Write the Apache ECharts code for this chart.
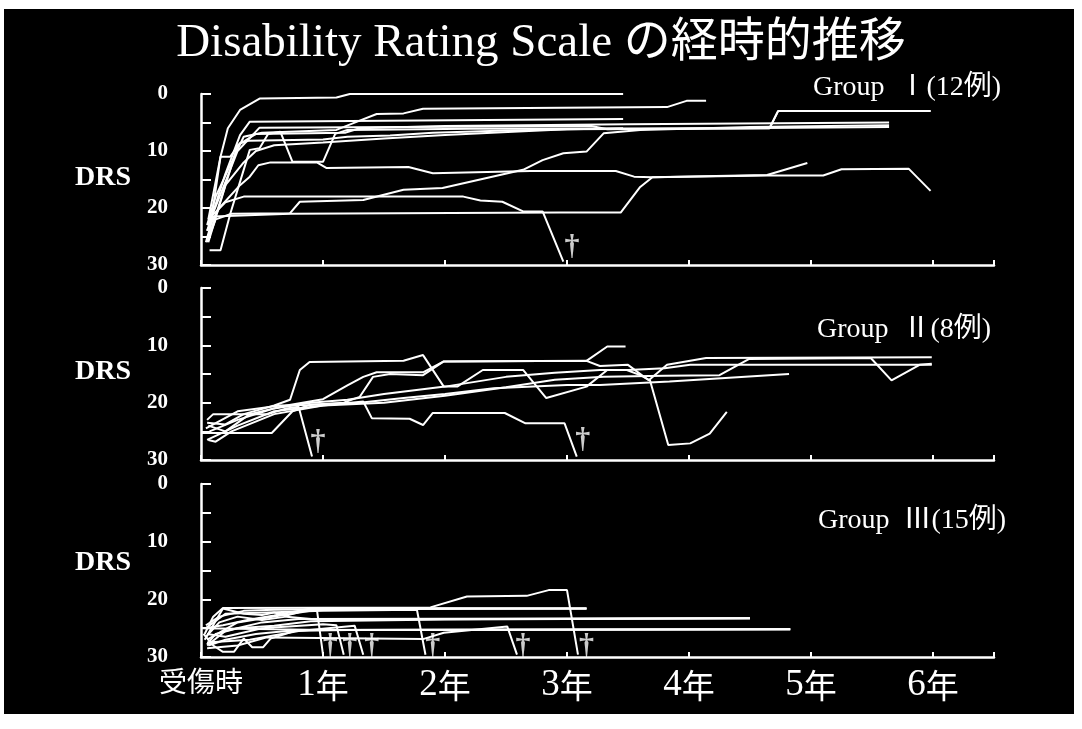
<!DOCTYPE html>
<html>
<head>
<meta charset="utf-8">
<script src="https://cdn.jsdelivr.net/npm/echarts@6/dist/echarts.min.js"></script>
<style>
html, body { margin: 0; padding: 0; background: #fff; }
#slide { position: absolute; left: 4px; top: 9px; width: 1070px; height: 705px; background: #000; }
#chart { position: absolute; left: 0; top: 0; width: 1082px; height: 729px; }
</style>
</head>
<body>
<div id="slide"></div>
<div id="chart"></div>
<script>
// [years after injury, DRS]
var group1Lines = [
    [[0.06,22],[0.16,11],[0.22,6],[0.32,2.8],[0.48,0.8],[1.11,0.6],[1.22,0],[3.46,0]],
    [[0.06,25.6],[0.16,11],[0.24,11],[0.32,8.6],[0.39,8.2],[1.0,8],[1.2,7.5],[1.55,7.3],[1.9,6.8],[2.5,6.4],[3.46,6.0]],
    [[0.07,27.4],[0.16,27.4],[0.24,21],[0.4,9.8],[0.48,9.5],[0.55,7],[0.65,6.6],[0.75,11.9],[1.0,11.9],[1.1,7],[1.2,6.3],[2.2,6.1],[4.66,6.0],[4.73,3.0],[5.98,3.0]],
    [[0.05,24],[0.2,14],[0.32,7.2],[0.4,4.85],[1.5,4.7],[3.46,4.4]],
    [[0.06,23],[0.3,10],[0.48,5.9],[3.2,5.6],[3.33,6.2],[5.64,5.8]],
    [[0.05,24],[0.15,20],[0.32,16],[0.4,14.5],[0.47,12.5],[0.57,12],[0.95,12],[1.03,13.0],[1.7,12.8],[1.9,13.9],[2.7,13.5],[3.4,13.5],[3.55,14.5],[3.7,14.6],[4.64,14.3],[5.1,14.3],[5.25,13.2],[5.8,13.1],[5.98,17]],
    [[0.06,22],[0.2,19],[0.35,18],[2.15,18],[2.29,18.7],[2.47,18.9],[2.64,20.6],[2.8,20.6],[2.97,29.4]],
    [[0.05,26],[0.12,22],[0.25,21],[0.73,20.9],[0.81,18.9],[1.33,18.6],[1.66,16.8],[1.98,16.5],[2.64,13.3],[2.8,11.6],[2.97,10.4],[3.16,10.1],[3.3,6.9],[3.6,6.3],[4.5,5.8],[5.64,5.5]],
    [[0.04,26],[0.1,21.5],[0.73,21],[2.94,20.8],[3.44,20.8],[3.6,16.3],[3.7,14.6],[4.64,14.2],[4.97,12.1]],
    [[0.05,23],[0.12,18],[0.25,12],[0.35,7.5],[0.5,6.8],[1.11,6.3],[1.28,4.85],[1.44,3.5],[1.66,3.4],[1.82,2.6],[3.82,2.3],[3.98,1.2],[4.14,1.2]],
    [[0.06,26],[0.3,9],[0.45,7],[1.18,6.8],[1.3,6],[2.0,5.6],[3.5,5.3],[5.64,5.0]],
    [[0.08,24],[0.2,16],[0.35,12],[0.45,10],[0.6,9],[1.0,8.5],[1.5,7.8],[2.0,7.2],[2.6,6.6],[3.0,6.2],[4.66,6.0],[4.73,3.0],[5.98,3.0]]
];

var group2Lines = [
    [[0.05,23.5],[0.2,23.8],[0.35,22],[0.6,20.5],[0.73,19.5],[0.81,14.3],[0.89,12.9],[1.66,12.7],[1.82,11.7],[1.99,17.2],[2.1,17.2],[2.31,14.3],[2.64,14.3],[2.83,19.2],[3.16,17.2],[3.33,14.3],[3.5,14.3],[3.8,14],[4.01,13.4],[5.99,13.4]],
    [[0.04,24.5],[0.3,21.5],[0.65,20.5],[0.9,20.4],[1.17,20],[1.3,19],[1.41,15.5],[1.55,15],[1.82,15.2],[1.99,12.8],[3.16,12.7],[3.33,10.2],[3.48,10.2]],
    [[0.05,23],[0.1,22],[0.55,22],[0.7,21],[0.8,20.7],[0.91,29.4]],
    [[0.06,26.5],[0.12,26.8],[0.25,25],[0.6,22],[1.0,20.5],[1.33,19.8],[1.40,22.7],[1.71,22.8],[1.82,23.9],[1.9,21.8],[2.49,21.8],[2.66,23.6],[2.98,23.6],[3.08,29.4]],
    [[0,25.3],[0.58,25.3],[0.75,21.5],[0.9,20.3],[1.3,20],[1.66,19.2],[2.0,18.5],[2.4,17.5],[3.0,16.9],[3.27,16.9],[3.84,16.3],[4.82,15.0]],
    [[0.07,25],[0.3,23],[0.6,21],[0.9,20],[1.2,19.5],[1.5,18.5],[2.0,17.2],[2.5,15.5],[2.9,14.8],[3.27,14.3],[3.49,14.3],[3.6,15.2],[3.68,16.1],[3.83,27.4],[4.01,27.1],[4.17,25.4],[4.31,21.6]],
    [[0.06,24],[0.2,25],[0.4,22],[0.7,20.5],[1.0,19.4],[1.2,17],[1.33,15.5],[1.44,14.7],[1.82,14.7],[1.99,12.8],[3.16,12.7],[3.27,13.6],[3.5,13.4],[3.67,16.1],[3.82,13.4],[4.14,12.2],[5.99,12.1]],
    [[0.05,26.5],[0.3,24],[0.6,21.5],[1.0,20.5],[1.5,20],[2.0,18.8],[2.5,17.3],[2.9,16],[3.3,15.5],[3.8,15.3],[4.25,15.2],[4.49,12.4],[5.49,12.2],[5.66,16.1],[5.89,13.4],[5.99,13.2]]
];

var group3Lines = [
    [[0.03,26],[0.1,23],[0.18,21.5],[1.88,21.4],[2.18,19.5],[2.67,19.4],[2.85,18.4],[3.0,18.4],[3.09,29.6]],
    [[0.03,25],[0.18,24.5],[0.4,23.5],[0.6,22.8],[0.9,21.6],[3.16,21.6]],
    [[0.05,28],[0.2,25.5],[0.5,24],[0.8,23.4],[4.5,23.3]],
    [[0,25],[0.6,25.2],[1.0,25.3],[4.83,25.2]],
    [[0.05,27],[0.3,24],[0.6,23],[0.95,21.8],[1.0,29.6]],
    [[0.05,26],[0.2,26.5],[0.5,25],[1.0,24.3],[1.11,24.5],[1.17,29.6]],
    [[0.05,27.5],[0.4,27],[0.8,25.5],[1.26,24.6],[1.33,29.6]],
    [[0.04,25],[0.2,22.5],[1.0,22],[1.77,21.8],[1.84,29.6]],
    [[0.05,28.5],[0.3,28],[0.54,26.6],[1.82,26.9],[1.99,25.8],[2.51,24.7],[2.59,29.6]],
    [[0.02,26],[0.1,28],[0.18,29.1],[0.27,29.1],[0.35,26.8],[0.42,28.3],[0.51,28.3],[0.57,26.8],[0.8,25.3],[4.83,25.2]],
    [[0.03,27],[0.18,21.6],[0.35,22.5],[0.5,22.7],[0.6,22.3],[0.7,22.8],[0.93,21.5],[3.16,21.6]],
    [[0.04,26.5],[0.15,24],[0.3,23],[0.5,23.6],[0.7,23],[0.95,23.5],[4.5,23.3]],
    [[0.06,28],[0.2,27],[0.45,26],[0.7,25.5],[1.2,25.3],[4.83,25.2]],
    [[0.05,27.8],[0.12,26],[0.3,25],[0.6,24.6],[0.9,23.8],[2.0,23.5],[4.5,23.3]],
    [[0.04,24.5],[0.15,23],[0.35,22],[0.6,21.8],[0.95,21.7],[3.16,21.6]]
];

// death markers (†)
var group1Deaths = [[3.04,26.8]];
var group2Deaths = [[0.96,26.9],[3.13,26.5]];
var group3Deaths = [[1.06,28.2],[1.22,28.2],[1.40,28.2],[1.90,28.2],[2.64,28.2],[3.16,28.2]];

var xLabels = ['受傷時', '1年', '2年', '3年', '4年', '5年', '6年'];
var yTickLabels = [0, 10, 20, 30];
var groupNames = ['Group  Ⅰ(12例)', 'Group  Ⅱ(8例)', 'Group  Ⅲ(15例)'];
var chartTitle = 'Disability Rating Scale の経時的推移';

var serif = '"Liberation Serif", "Noto Sans CJK JP"';
var grids = [
    {left: 201, top: 94, width: 793, height: 171},
    {left: 201, top: 288, width: 793, height: 172},
    {left: 201, top: 484, width: 793, height: 173}
];
var groupLabelPos = [[813, 74], [817, 316], [818, 507]];
var drsTop = [164, 358, 549];

var chart = echarts.init(document.getElementById('chart'));

var xAxes = [], yAxes = [], series = [], graphics = [];
var allLines = [group1Lines, group2Lines, group3Lines];
var allDeaths = [group1Deaths, group2Deaths, group3Deaths];

for (var i = 0; i < 3; i++) {
    xAxes.push({
        gridIndex: i, type: 'value', min: 0, max: 6.5, interval: 1,
        axisLine: {onZero: false, lineStyle: {color: '#fff', width: 2.5}},
        axisTick: {inside: true, length: 5, lineStyle: {color: '#fff', width: 2}},
        splitLine: {show: false},
        axisLabel: {
            show: i === 2, margin: 10, color: '#fff',
            formatter: function (v) {
                if (v % 1 !== 0 || !xLabels[v]) return '';
                if (v === 0) return '{a|' + xLabels[0] + '}';
                return '{n|' + v + '}{k|年}';
            },
            rich: {
                a: {fontSize: 28, fontFamily: '"Noto Sans CJK JP"', color: '#fff'},
                n: {fontSize: 37, fontFamily: serif, color: '#fff'},
                k: {fontSize: 33, fontFamily: '"Noto Sans CJK JP"', color: '#fff'}
            }
        }
    });
    yAxes.push({
        gridIndex: i, type: 'value', inverse: true, min: 0, max: 30, interval: 5,
        axisLine: {show: true, lineStyle: {color: '#fff', width: 2.5}},
        axisTick: {show: true, inside: true, length: 10, lineStyle: {color: '#fff', width: 2}},
        splitLine: {show: false},
        axisLabel: {
            margin: 33, color: '#fff', fontFamily: serif, fontWeight: 'bold', fontSize: 21,
            formatter: function (v) { return yTickLabels.indexOf(v) >= 0 ? String(v) : ''; }
        }
    });
    allLines[i].forEach(function (line) {
        series.push({
            type: 'line', xAxisIndex: i, yAxisIndex: i, data: line,
            symbol: 'none', showSymbol: false, clip: false, silent: true,
            lineStyle: {color: '#fff', width: 2}
        });
    });
    series.push({
        type: 'scatter', xAxisIndex: i, yAxisIndex: i, data: allDeaths[i],
        symbolSize: 1, itemStyle: {color: 'rgba(0,0,0,0)'}, silent: true,
        label: {show: true, position: 'inside', formatter: '†', color: '#fff',
                fontSize: 30, fontWeight: 'bold', fontFamily: serif}
    });
    graphics.push({
        type: 'text', left: 75, top: drsTop[i],
        style: {text: 'DRS', fill: '#fff', fontSize: 28, fontWeight: 'bold', fontFamily: serif}
    });
    graphics.push({
        type: 'text', left: groupLabelPos[i][0], top: groupLabelPos[i][1],
        style: {text: groupNames[i], fill: '#fff', fontSize: 28, fontFamily: serif}
    });
}

graphics.push({
    type: 'text', left: 'center', top: 20,
    style: {text: chartTitle, fill: '#fff', fontSize: 47, fontFamily: serif}
});

chart.setOption({
    backgroundColor: 'transparent',
    animation: false,
    grid: grids,
    xAxis: xAxes,
    yAxis: yAxes,
    series: series,
    graphic: graphics
});
</script>
</body>
</html>
